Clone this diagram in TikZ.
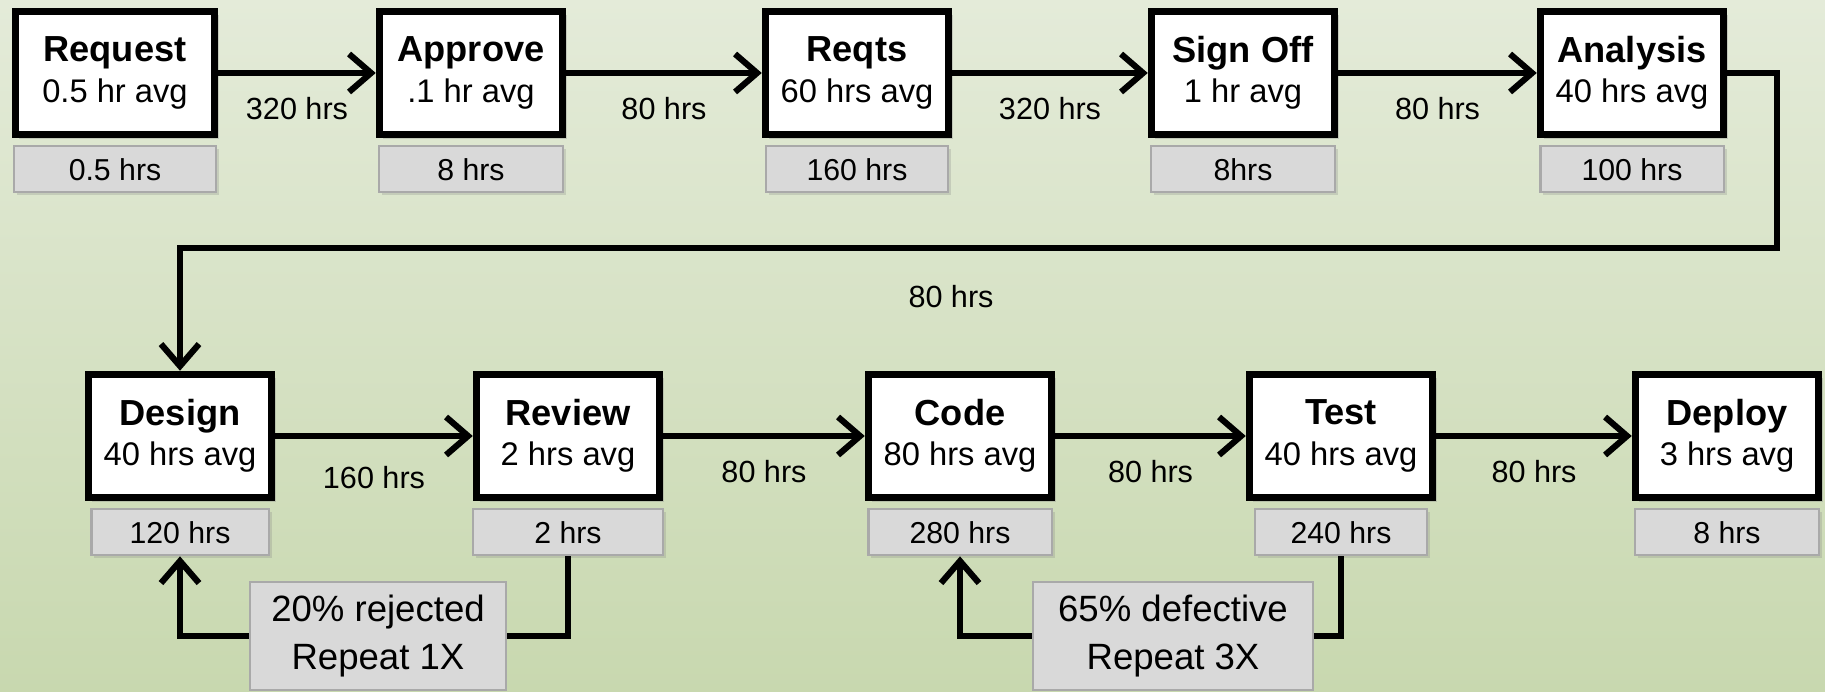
\documentclass[tikz,border=0pt]{standalone}
\usepackage{fontspec}
\setmainfont{Liberation Sans}
\usepackage{xcolor}
\usepackage{tikz}
\usetikzlibrary{arrows.meta, positioning, shadows}

\definecolor{bgtop}{HTML}{E4EBD9}
\definecolor{bgbot}{HTML}{C8D8AF}
\definecolor{totfill}{HTML}{D9D9D9}
\definecolor{totline}{HTML}{A9A9A9}

\newcommand{\steptitle}[1]{{\fontsize{10.3}{12}\selectfont\bfseries #1}}

\begin{document}
\begin{tikzpicture}[x=0.01cm, y=-0.01cm,
    stepbox/.style={draw=black, line width=2.1pt, fill=white, align=center,
        minimum width=1.83cm, minimum height=1.23cm, inner sep=0pt,
        drop shadow={shadow xshift=0.04cm, shadow yshift=-0.04cm, opacity=0.3},
        font=\fontsize{9.3}{11.5}\selectfont},
    totbox/.style={draw=totline, line width=0.6pt, fill=totfill,
        minimum height=0.46cm, inner sep=0pt,
        drop shadow={shadow xshift=0.03cm, shadow yshift=-0.03cm, opacity=0.25},
        font=\fontsize{8.6}{10}\selectfont},
    notebox/.style={draw=totline, line width=0.6pt, fill=totfill, align=center,
        minimum width=2.56cm, minimum height=1.08cm, inner sep=0pt,
        font=\fontsize{10.4}{13.9}\selectfont},
    link/.style={line width=1.75pt},
    flow/.style={link, -{Straight Barb[length=0.22cm, width=0.38cm]}},
    hrs/.style={font=\fontsize{8.7}{10}\selectfont},
    under/.style={hrs, yshift=-0.36cm}]

    % =================================================================
    % 1. BACKGROUND AND PICTURE SIZE
    % =================================================================
    \fill[top color=bgtop, bottom color=bgbot] (0,0) rectangle (1825,692);
    \useasboundingbox (0,0) rectangle (1825,692);

    % =================================================================
    % 2. FIRST ROW OF STEPS
    % =================================================================
    \node[stepbox, minimum width=1.99cm] (request) at (115,73) {\steptitle{Request}\\0.5 hr avg};
    \node[stepbox] (approve)  at (471,73)  {\steptitle{Approve}\\.1 hr avg};
    \node[stepbox] (reqts)    at (857,73)  {\steptitle{Reqts}\\60 hrs avg};
    \node[stepbox] (signoff)  at (1243,73) {\steptitle{Sign Off}\\1 hr avg};
    \node[stepbox] (analysis) at (1632,73) {\steptitle{Analysis}\\40 hrs avg};

    % Total hours under each step
    \node[totbox, minimum width=2.02cm, below=0.07cm of request]  (request-t)  {0.5 hrs};
    \node[totbox, minimum width=1.84cm, below=0.07cm of approve]  (approve-t)  {8 hrs};
    \node[totbox, minimum width=1.82cm, below=0.07cm of reqts]    (reqts-t)    {160 hrs};
    \node[totbox, minimum width=1.84cm, below=0.07cm of signoff]  (signoff-t)  {8hrs};
    \node[totbox, minimum width=1.83cm, below=0.07cm of analysis] (analysis-t) {100 hrs};

    % =================================================================
    % 3. SECOND ROW OF STEPS
    % =================================================================
    \node[stepbox] (design) at (180,436)  {\steptitle{Design}\\40 hrs avg};
    \node[stepbox] (review) at (568,436)  {\steptitle{Review}\\2 hrs avg};
    \node[stepbox] (code)   at (960,436)  {\steptitle{Code}\\80 hrs avg};
    \node[stepbox] (test)   at (1341,436) {\steptitle{Test}\\40 hrs avg};
    \node[stepbox] (deploy) at (1727,436) {\steptitle{Deploy}\\3 hrs avg};

    \node[totbox, minimum width=1.77cm, below=0.07cm of design] (design-t) {120 hrs};
    \node[totbox, minimum width=1.90cm, below=0.07cm of review] (review-t) {2 hrs};
    \node[totbox, minimum width=1.83cm, below=0.07cm of code]   (code-t)   {280 hrs};
    \node[totbox, minimum width=1.72cm, below=0.07cm of test]   (test-t)   {240 hrs};
    \node[totbox, minimum width=1.84cm, below=0.07cm of deploy] (deploy-t) {8 hrs};

    % Rework boxes
    \node[notebox] (reject) at (378,636) {20\% rejected\\Repeat 1X};
    \node[notebox, minimum width=2.80cm] (defect) at (1173,636) {65\% defective\\Repeat 3X};

    % =================================================================
    % 4. WAITING TIMES BETWEEN STEPS
    % =================================================================
    \draw[flow] (request) -- node[under] {320 hrs} (approve);
    \draw[flow] (approve) -- node[under] {80 hrs} (reqts);
    \draw[flow] (reqts) -- node[under] {320 hrs} (signoff);
    \draw[flow] (signoff) -- node[under] {80 hrs} (analysis);

    \coordinate (turn) at (1777,248);
    \draw[flow] (analysis.east) -| (turn) -| (design.north);
    \node[hrs] (wait) at (951,297) {80 hrs};

    \draw[flow] (design) -- node[under, yshift=-0.06cm] {160 hrs} (review);
    \draw[flow] (review) -- node[under] {80 hrs} (code);
    \draw[flow] (code) -- node[under] {80 hrs} (test);
    \draw[flow] (test) -- node[under] {80 hrs} (deploy);

    % Rework loops
    \draw[link] (review-t.south) |- (reject.east);
    \draw[flow] (reject.west) -| (design-t.south);
    \draw[link] (test-t.south) |- (defect.east);
    \draw[flow] (defect.west) -| (code-t.south);

\end{tikzpicture}
\end{document}
